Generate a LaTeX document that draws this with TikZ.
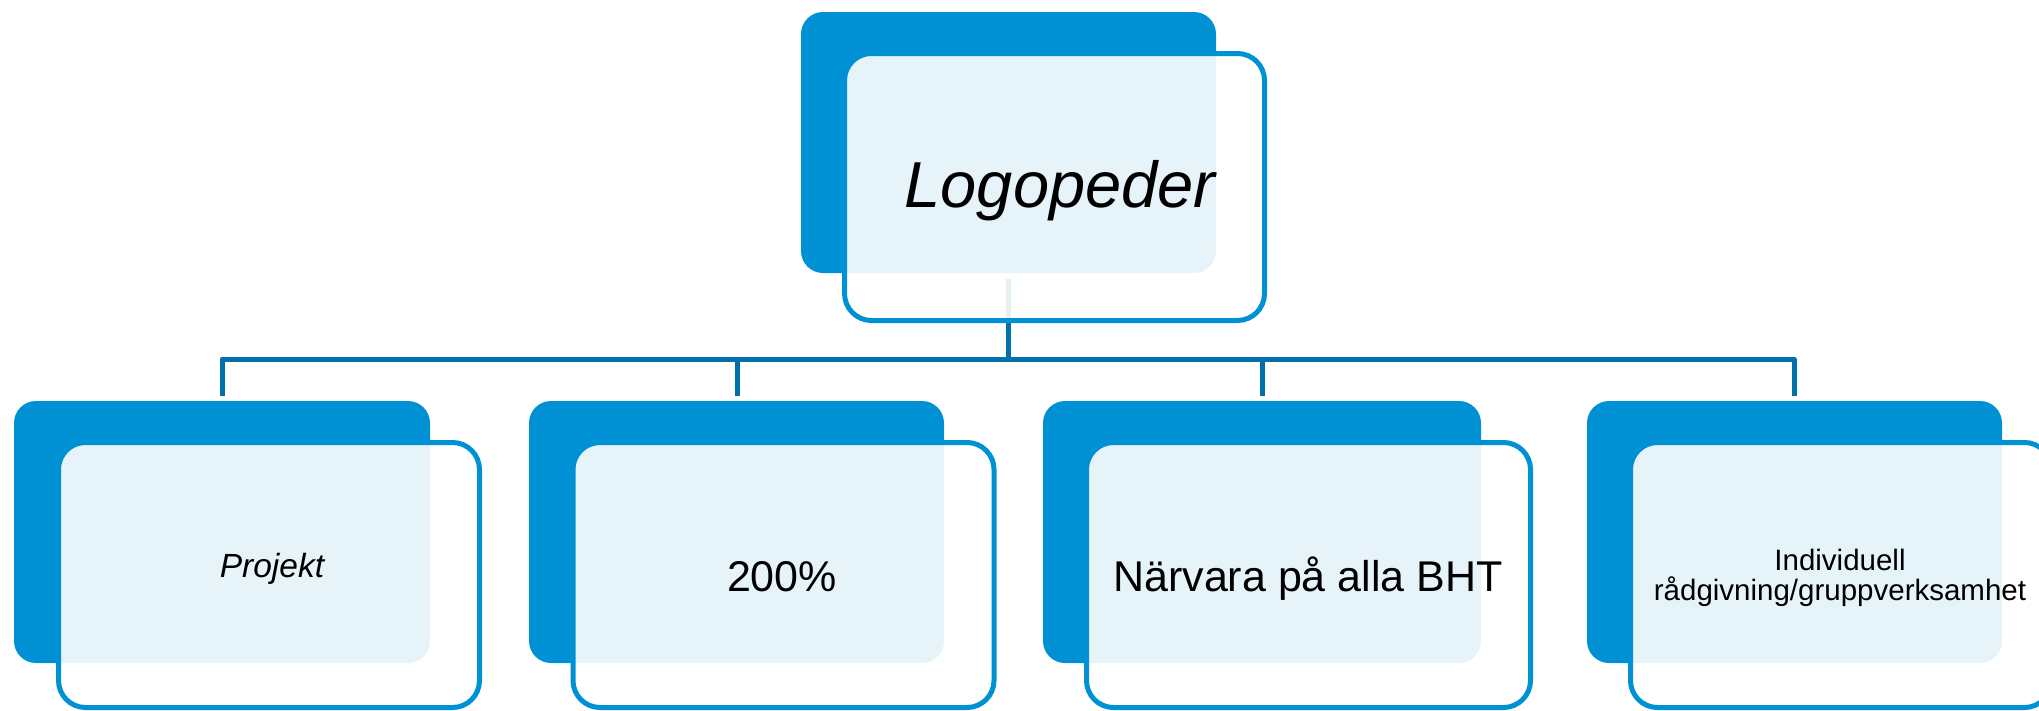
\documentclass[tikz,border=0pt]{standalone}
\usepackage{fontspec}
\setmainfont{Liberation Sans}
\definecolor{boxblue}{RGB}{0,145,213}
\definecolor{linkblue}{RGB}{0,113,170}
\tikzset{
  darkbox/.style={rectangle, rounded corners=22pt, fill=boxblue, draw=none, inner sep=0pt},
  litebox/.style={rectangle, rounded corners=27pt, draw=boxblue, line width=5pt, fill=white, fill opacity=0.9, inner sep=0pt},
  conn/.style={draw=linkblue, line width=5pt},
  lbl/.style={inner sep=0pt, text=black, anchor=base}
}
\begin{document}
\begin{tikzpicture}[x=1pt,y=-1pt]
\useasboundingbox (0,0) rectangle (2039,710);
% connector anchor coordinates
\coordinate (tstart) at (1008,279);
\coordinate (hub) at (1008,359);
\coordinate (d1) at (222,396);
\coordinate (d2) at (737,396);
\coordinate (d3) at (1262,396);
\coordinate (d4) at (1794,396);
% connectors (under the boxes)
\draw[conn] (tstart) -- (hub);
\draw[conn, line join=round] (d1) |- (hub) -| (d4);
\draw[conn] (hub) -| (d2);
\draw[conn] (hub) -| (d3);
% top node
\node[darkbox, minimum width=415pt, minimum height=261pt] (topd) at (1008.5,142.5) {};
\node[litebox, minimum width=420pt, minimum height=267pt] (topl) at (1054.5,187) {};
\node[lbl, font=\fontsize{65}{78}\selectfont\itshape] (toptxt) at (1060,207) {Logopeder};
% node 1
\node[darkbox, minimum width=416pt, minimum height=262pt] (n1d) at (222,532) {};
\node[litebox, minimum width=421pt, minimum height=265pt] (n1l) at (269,575) {};
\node[lbl, font=\fontsize{33.5}{40}\selectfont\itshape] (n1t) at (272,577) {Projekt};
% node 2
\node[darkbox, minimum width=415pt, minimum height=262pt] (n2d) at (736.5,532) {};
\node[litebox, minimum width=421pt, minimum height=265pt] (n2l) at (783.5,575) {};
\node[lbl, font=\fontsize{43}{50}\selectfont] (n2t) at (782,591) {200\%};
% node 3
\node[darkbox, minimum width=438pt, minimum height=262pt] (n3d) at (1262,532) {};
\node[litebox, minimum width=444pt, minimum height=265pt] (n3l) at (1308.5,575) {};
\node[lbl, font=\fontsize{43}{50}\selectfont] (n3t) at (1308,591) {Närvara på alla BHT};
% node 4
\node[darkbox, minimum width=415pt, minimum height=262pt] (n4d) at (1794.5,532) {};
\node[litebox, minimum width=421pt, minimum height=265pt] (n4l) at (1841,575) {};
\node[inner sep=0pt, align=center, font=\fontsize{29.5}{30.5}\selectfont] (n4t) at (1840,578) {Individuell\\rådgivning/gruppverksamhet};
\end{tikzpicture}
\end{document}
